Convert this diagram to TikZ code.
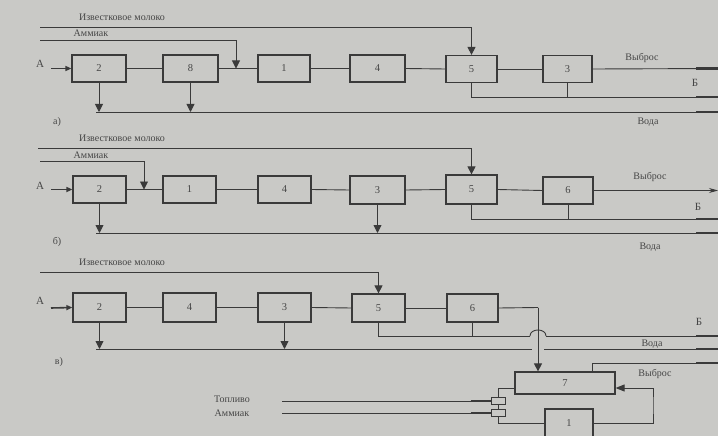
\documentclass[tikz,border=0pt]{standalone}
\usepackage{fontspec}
\setmainfont{Liberation Serif}
\usetikzlibrary{arrows.meta}
\definecolor{bg}{RGB}{201,201,198}
\definecolor{ink}{RGB}{58,58,58}
\definecolor{txt}{RGB}{70,70,70}
\tikzset{
  box/.style={draw=ink, line width=1.2pt, rectangle, inner sep=0pt, minimum width=54pt, minimum height=27pt, font=\fontsize{10.5}{12}\selectfont, text=txt},
  smallbox/.style={draw=ink, line width=0.8pt, rectangle, inner sep=0pt, minimum width=14pt, minimum height=7pt},
  conn/.style={draw=ink, line width=0.9pt},
  arr/.style={conn, -{Triangle[length=8pt,width=8pt]}},
  inarr/.style={conn, line width=1.6pt, -{Triangle[length=6pt,width=5pt]}},
  endseg/.style={draw=ink, line width=2.6pt},
  lbl/.style={text=txt, font=\fontsize{10}{12}\selectfont, inner sep=0pt},
  big/.style={text=txt, font=\fontsize{11}{13}\selectfont, inner sep=0pt}
}
\begin{document}
\begin{tikzpicture}[x=1pt,y=-1pt]
\fill[bg] (0,0) rectangle (718,436);
\useasboundingbox (0,0) rectangle (718,436);

% ================= a) =================
\node[box, minimum width=54pt] (a2) at (99,68.5) {2};
\node[box, minimum width=55pt] (a8) at (190.5,68.5) {8};
\node[box, minimum width=52pt] (a1) at (284,68.5) {1};
\node[box, minimum width=55pt] (a4) at (377.5,68.5) {4};
\node[box, minimum width=51pt] (a5) at (471.5,69) {5};
\node[box, minimum width=49pt] (a3) at (567.5,69) {3};
\node[big] (aA) at (40,64) {А};
\coordinate (aIn) at (51,68.5);
\coordinate (aLm) at (40,27);
\coordinate (aLa) at (40,40);
\coordinate (aJ) at (236,68.5);
\coordinate (aV) at (718,68.5);
\coordinate (aB) at (718,97);
\coordinate (aWl) at (96,112);
\coordinate (aWr) at (718,112);
\node[lbl] (aTm) at (122,17) {Известковое молоко};
\node[lbl] (aTa) at (91,33) {Аммиак};
\node[lbl] (aTv) at (642,58) {Выброс};
\node[big] (aTb) at (695,83) {Б};
\node[lbl] (aTw) at (648,122) {Вода};
\node[lbl] (aTl) at (57,122) {а)};
\draw[inarr] (aIn) -- (a2.west);
\draw[conn] (a2.east) -- (a8.west);
\draw[conn] (a8.east) -- (a1.west);
\draw[conn] (a1.east) -- (a4.west);
\draw[conn] (a4.east) -- (a5.west);
\draw[conn] (a5.east) -- (a3.west);
\draw[conn] (a3.east) -- (aV);
\draw[endseg] ([xshift=-22pt]aV) -- (aV);
\draw[arr] (aLm) -| (a5.north);
\draw[arr] (aLa) -| (aJ);
\draw[conn] (a5.south) |- (aB);
\draw[conn] (a3.south) -- (a3.south |- aB);
\draw[endseg] ([xshift=-22pt]aB) -- (aB);
\draw[conn] (aWl) -- (aWr);
\draw[endseg] ([xshift=-22pt]aWr) -- (aWr);
\draw[arr] (a2.south) -- (a2.south |- aWl);
\draw[arr] (a8.south) -- (a8.south |- aWl);

% ================= b) =================
\node[box, minimum width=53pt] (b2) at (99.5,189.5) {2};
\node[box, minimum width=53pt] (b1) at (189.5,189.5) {1};
\node[box, minimum width=53pt] (b4) at (284.5,189.5) {4};
\node[box, minimum width=55pt, minimum height=28pt] (b3) at (377.5,190) {3};
\node[box, minimum width=51pt, minimum height=29pt] (b5) at (471.5,189.5) {5};
\node[box, minimum width=50pt] (b6) at (568,190.5) {6};
\node[big] (bA) at (40,186) {А};
\coordinate (bIn) at (51,189.5);
\coordinate (bLm) at (38,148);
\coordinate (bLa) at (40,161);
\coordinate (bJ) at (144,189.5);
\coordinate (bV) at (718,190.5);
\coordinate (bB) at (718,219);
\coordinate (bWl) at (96,233);
\coordinate (bWr) at (718,233);
\node[lbl] (bTm) at (122,138) {Известковое молоко};
\node[lbl] (bTa) at (91,155) {Аммиак};
\node[lbl] (bTv) at (650,177) {Выброс};
\node[big] (bTb) at (698,207) {Б};
\node[lbl] (bTw) at (650,247) {Вода};
\node[lbl] (bTl) at (57,242) {б)};
\draw[inarr] (bIn) -- (b2.west);
\draw[conn] (b2.east) -- (b1.west);
\draw[conn] (b1.east) -- (b4.west);
\draw[conn] (b4.east) -- (b3.west);
\draw[conn] (b3.east) -- (b5.west);
\draw[conn] (b5.east) -- (b6.west);
\draw[conn, -{Stealth[length=9pt,width=5pt]}] (b6.east) -- (bV);
\draw[arr] (bLm) -| (b5.north);
\draw[arr] (bLa) -| (bJ);
\draw[conn] (b5.south) |- (bB);
\draw[conn] (b6.south) -- (b6.south |- bB);
\draw[endseg] ([xshift=-22pt]bB) -- (bB);
\draw[conn] (bWl) -- (bWr);
\draw[endseg] ([xshift=-22pt]bWr) -- (bWr);
\draw[arr] (b2.south) -- (b2.south |- bWl);
\draw[arr] (b3.south) -- (b3.south |- bWl);

% ================= c) =================
\node[box, minimum width=53pt, minimum height=29pt] (c2) at (99.5,307.5) {2};
\node[box, minimum width=53pt, minimum height=29pt] (c4) at (189.5,307.5) {4};
\node[box, minimum width=53pt, minimum height=29pt] (c3) at (284.5,307.5) {3};
\node[box, minimum width=53pt, minimum height=28pt] (c5) at (378.5,308) {5};
\node[box, minimum width=51pt, minimum height=28pt] (c6) at (472.5,308) {6};
\node[box, minimum width=100pt, minimum height=22pt] (c7) at (565,383) {7};
\node[box, minimum width=48pt, minimum height=28pt] (c1) at (569,423) {1};
\node[smallbox] (m1) at (498,401) {};
\node[smallbox] (m2) at (498,413) {};
\node[big] (cA) at (40,301) {А};
\coordinate (cIn) at (51,308);
\coordinate (cLm) at (40,272);
\coordinate (cX) at (538,307.5);
\coordinate (cB) at (718,336);
\coordinate (cH1) at (530,336);
\coordinate (cH2) at (546,336);
\coordinate (cWl) at (96,349);
\coordinate (cG1) at (532,349);
\coordinate (cG2) at (544,349);
\coordinate (cWr) at (718,349);
\coordinate (cVt) at (592,363);
\coordinate (cV) at (718,363);
\coordinate (cR) at (653,405);
\coordinate (cF) at (282,401);
\coordinate (cN) at (282,413);
\node[lbl] (cTm) at (122,262) {Известковое молоко};
\node[big] (cTb) at (699,322) {Б};
\node[lbl] (cTw) at (652,344) {Вода};
\node[lbl] (cTv) at (655,374) {Выброс};
\node[lbl] (cTf) at (232,399) {Топливо};
\node[lbl] (cTn) at (232,413) {Аммиак};
\node[lbl] (cTl) at (59,362) {в)};
\draw[inarr] (cIn) -- (c2.west);
\draw[conn] (c2.east) -- (c4.west);
\draw[conn] (c4.east) -- (c3.west);
\draw[conn] (c3.east) -- (c5.west);
\draw[conn] (c5.east) -- (c6.west);
\draw[arr] (cLm) -| (c5.north);
\draw[arr] (c2.south) -- (c2.south |- cWl);
\draw[arr] (c3.south) -- (c3.south |- cWl);
% Б line with hop
\draw[conn] (c5.south) |- (cH1);
\draw[conn] (cH1) .. controls ([yshift=8pt]cH1) and ([yshift=8pt]cH2) .. (cH2);
\draw[conn] (cH2) -- (cB);
\draw[conn] (c6.south) -- (c6.south |- cB);
\draw[endseg] ([xshift=-22pt]cB) -- (cB);
% water line with gap
\draw[conn] (cWl) -- (cG1);
\draw[conn] (cG2) -- (cWr);
\draw[endseg] ([xshift=-22pt]cWr) -- (cWr);
% box 6 to box 7
\draw[conn] (c6.east) -- (cX);
\draw[arr] (cX) -- (cX |- c7.north);
% box 7 exhaust
\draw[conn] (c7.north -| cVt) |- (cV);
\draw[endseg] ([xshift=-22pt]cV) -- (cV);
% box 1 to box 7
\draw[conn, -{Triangle[length=9pt,width=7pt]}] (c1.east) -| (cR) |- ([yshift=-5pt]c7.east);
% mixers
\draw[conn] ([yshift=-5pt]c7.west) -| (m1.north);
\draw[conn] (m1.south) -- (m2.north);
\draw[conn] (m2.south) |- (c1.west);
\draw[conn] (cF) -- (m1.west);
\draw[conn] (cN) -- (m2.west);
\draw[endseg] ([xshift=-20pt]m1.west) -- (m1.west);
\draw[endseg] ([xshift=-20pt]m2.west) -- (m2.west);
\end{tikzpicture}
\end{document}
